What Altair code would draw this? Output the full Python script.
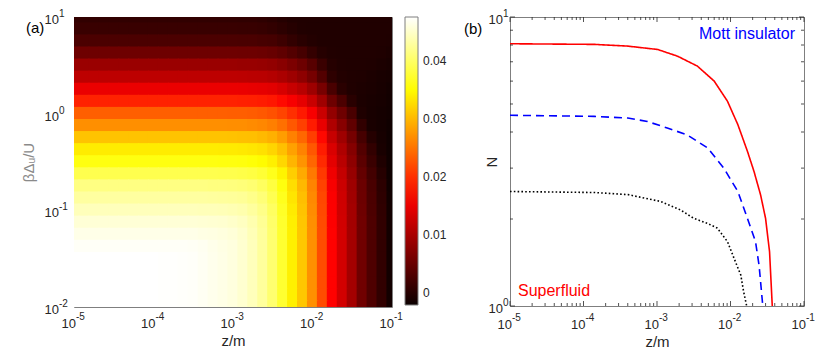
import math
import altair as alt
import pandas as pd

# ---------------- data: panel (a) heat map ----------------
# grid centres (log10 of z/m and of beta*Delta_U/U); values in units of 1e-3
LOG_Z = [-5.0, -4.875, -4.75, -4.625, -4.5, -4.375, -4.25, -4.125, -4.0, -3.875, -3.75,
         -3.625, -3.5, -3.375, -3.25, -3.125, -3.0, -2.875, -2.75, -2.625, -2.5, -2.375,
         -2.25, -2.125, -2.0, -1.875, -1.75, -1.625, -1.5, -1.375, -1.25, -1.125, -1.0]
LOG_BETA = [1.0, 0.875, 0.75, 0.625, 0.5, 0.375, 0.25, 0.125, 0.0, -0.125, -0.25, -0.375,
            -0.5, -0.625, -0.75, -0.875, -1.0, -1.125, -1.25, -1.375, -1.5, -1.625, -1.75,
            -1.875, -2.0]
HEAT = [
    [0.8, 0.8, 0.8, 0.8, 0.8, 0.8, 0.8, 0.8, 0.8, 0.8, 0.8, 0.8, 0.8, 0.8, 0.8, 0.8, 0.8, 0.7, 0.7, 0.6, 0.3, -0.1, -0.4, -0.5, -0.5, -0.5, -0.5, -0.5, -0.5, -0.5, -0.5, -0.5, -0.5],
    [1.4, 1.4, 1.4, 1.4, 1.4, 1.4, 1.4, 1.4, 1.4, 1.4, 1.4, 1.4, 1.4, 1.4, 1.4, 1.4, 1.4, 1.3, 1.3, 1.2, 0.9, 0.4, 0.0, -0.4, -0.5, -0.5, -0.5, -0.5, -0.5, -0.5, -0.5, -0.5, -0.5],
    [2.8, 2.8, 2.8, 2.8, 2.8, 2.8, 2.8, 2.8, 2.8, 2.8, 2.8, 2.8, 2.8, 2.8, 2.8, 2.8, 2.8, 2.7, 2.7, 2.5, 2.3, 1.7, 0.9, 0.2, -0.3, -0.5, -0.5, -0.5, -0.5, -0.5, -0.5, -0.5, -0.6],
    [5.5, 5.5, 5.5, 5.5, 5.5, 5.5, 5.5, 5.5, 5.5, 5.5, 5.5, 5.5, 5.5, 5.5, 5.5, 5.5, 5.5, 5.4, 5.4, 5.2, 4.9, 4.3, 3.4, 2.4, 1.0, 0.0, -0.4, -0.5, -0.5, -0.5, -0.5, -0.6, -0.8],
    [8.8, 8.8, 8.8, 8.8, 8.8, 8.8, 8.8, 8.8, 8.8, 8.8, 8.8, 8.8, 8.8, 8.8, 8.8, 8.8, 8.8, 8.7, 8.7, 8.5, 8.2, 7.5, 6.5, 5.4, 3.7, 1.5, 0.0, -0.4, -0.5, -0.5, -0.6, -0.8, -1.0],
    [11.5, 11.5, 11.5, 11.5, 11.5, 11.5, 11.5, 11.5, 11.5, 11.5, 11.5, 11.5, 11.5, 11.5, 11.5, 11.5, 11.5, 11.4, 11.3, 11.2, 10.8, 10.1, 9.1, 7.9, 6.1, 3.4, 0.6, -0.3, -0.5, -0.6, -0.8, -1.0, -1.2],
    [15.0, 15.0, 15.0, 15.0, 15.0, 15.0, 15.0, 15.0, 15.0, 15.0, 15.0, 15.0, 15.0, 15.0, 15.0, 15.0, 15.0, 14.9, 14.8, 14.6, 14.3, 13.5, 12.3, 11.1, 9.1, 6.2, 2.6, 0.3, -0.5, -0.7, -0.9, -1.1, -1.4],
    [19.0, 19.0, 19.0, 19.0, 19.0, 19.0, 19.0, 19.0, 19.0, 19.0, 19.0, 19.0, 19.0, 19.0, 19.0, 19.0, 19.0, 18.9, 18.8, 18.6, 18.2, 17.3, 16.0, 14.6, 12.4, 9.3, 5.4, 2.8, 0.2, -0.8, -1.0, -1.2, -1.5],
    [23.5, 23.5, 23.5, 23.5, 23.5, 23.5, 23.5, 23.5, 23.5, 23.5, 23.5, 23.5, 23.5, 23.5, 23.5, 23.5, 23.4, 23.4, 23.3, 23.0, 22.5, 21.5, 20.0, 18.4, 16.0, 12.5, 8.3, 5.5, 2.6, -0.6, -1.1, -1.3, -1.6],
    [27.0, 27.0, 27.0, 27.0, 27.0, 27.0, 27.0, 27.0, 27.0, 27.0, 27.0, 27.0, 27.0, 27.0, 27.0, 27.0, 26.9, 26.9, 26.7, 26.4, 25.8, 24.7, 23.0, 21.2, 18.5, 14.8, 10.4, 7.4, 4.4, 0.8, -1.0, -1.3, -1.7],
    [30.8, 30.8, 30.8, 30.8, 30.8, 30.8, 30.8, 30.8, 30.8, 30.8, 30.8, 30.8, 30.8, 30.8, 30.8, 30.8, 30.7, 30.6, 30.5, 30.1, 29.4, 28.0, 26.0, 24.1, 21.1, 17.1, 12.3, 9.2, 6.1, 2.4, -0.1, -1.2, -1.8],
    [33.8, 33.8, 33.8, 33.8, 33.8, 33.8, 33.8, 33.8, 33.8, 33.8, 33.8, 33.8, 33.8, 33.8, 33.8, 33.7, 33.7, 33.6, 33.4, 33.0, 32.1, 30.6, 28.3, 26.1, 22.9, 18.6, 13.7, 10.4, 7.2, 3.4, 0.9, -1.0, -1.8],
    [36.0, 36.0, 36.0, 36.0, 36.0, 36.0, 36.0, 36.0, 36.0, 36.0, 36.0, 36.0, 36.0, 36.0, 36.0, 35.9, 35.9, 35.8, 35.5, 35.0, 34.1, 32.3, 29.8, 27.4, 24.0, 19.6, 14.5, 11.2, 7.9, 4.0, 1.5, -0.6, -1.8],
    [39.0, 39.0, 39.0, 39.0, 39.0, 39.0, 39.0, 39.0, 39.0, 39.0, 39.0, 39.0, 39.0, 39.0, 39.0, 38.9, 38.9, 38.7, 38.4, 37.8, 36.5, 34.4, 31.6, 29.0, 25.4, 20.7, 15.4, 12.0, 8.6, 4.7, 2.2, 0.0, -1.8],
    [41.5, 41.5, 41.5, 41.5, 41.5, 41.5, 41.5, 41.5, 41.5, 41.5, 41.5, 41.5, 41.5, 41.5, 41.4, 41.4, 41.3, 41.1, 40.7, 39.8, 38.3, 35.9, 32.8, 30.0, 26.2, 21.4, 16.0, 12.6, 9.1, 5.2, 2.6, 0.4, -1.7],
    [43.0, 43.0, 43.0, 43.0, 43.0, 43.0, 43.0, 43.0, 43.0, 43.0, 43.0, 43.0, 43.0, 43.0, 42.9, 42.8, 42.7, 42.5, 41.9, 41.0, 39.2, 36.6, 33.3, 30.5, 26.6, 21.7, 16.3, 12.8, 9.3, 5.3, 2.8, 0.6, -1.6],
    [44.3, 44.3, 44.3, 44.3, 44.3, 44.3, 44.3, 44.3, 44.3, 44.3, 44.3, 44.3, 44.3, 44.2, 44.2, 44.1, 43.9, 43.6, 42.9, 41.8, 39.9, 37.1, 33.7, 30.8, 26.8, 21.9, 16.4, 12.9, 9.5, 5.5, 2.9, 0.7, -1.5],
    [45.6, 45.6, 45.6, 45.6, 45.6, 45.6, 45.6, 45.6, 45.6, 45.6, 45.6, 45.6, 45.6, 45.5, 45.4, 45.3, 45.0, 44.6, 43.7, 42.4, 40.3, 37.4, 34.0, 31.0, 27.0, 22.0, 16.5, 13.0, 9.5, 5.6, 3.0, 0.8, -1.5],
    [46.5, 46.5, 46.5, 46.5, 46.5, 46.5, 46.5, 46.5, 46.5, 46.5, 46.5, 46.5, 46.5, 46.3, 46.2, 46.0, 45.7, 45.1, 44.1, 42.7, 40.5, 37.5, 34.1, 31.1, 27.1, 22.1, 16.6, 13.1, 9.6, 5.6, 3.0, 0.8, -1.5],
    [47.2, 47.2, 47.2, 47.2, 47.2, 47.2, 47.2, 47.2, 47.2, 47.2, 47.2, 47.2, 47.1, 46.9, 46.6, 46.3, 46.0, 45.3, 44.3, 42.8, 40.6, 37.6, 34.1, 31.1, 27.1, 22.1, 16.6, 13.1, 9.6, 5.6, 3.0, 0.8, -1.5],
    [47.6, 47.6, 47.6, 47.6, 47.6, 47.6, 47.6, 47.6, 47.6, 47.5, 47.5, 47.4, 47.3, 47.0, 46.7, 46.4, 46.0, 45.3, 44.3, 42.8, 40.6, 37.6, 34.1, 31.1, 27.1, 22.1, 16.6, 13.1, 9.6, 5.6, 3.0, 0.8, -1.5],
    [47.6, 47.6, 47.6, 47.6, 47.6, 47.6, 47.6, 47.6, 47.6, 47.5, 47.5, 47.4, 47.3, 47.0, 46.7, 46.4, 46.0, 45.3, 44.3, 42.8, 40.6, 37.6, 34.1, 31.1, 27.1, 22.1, 16.6, 13.1, 9.6, 5.6, 3.0, 0.8, -1.5],
    [47.6, 47.6, 47.6, 47.6, 47.6, 47.6, 47.6, 47.6, 47.6, 47.5, 47.5, 47.4, 47.3, 47.0, 46.7, 46.4, 46.0, 45.3, 44.3, 42.8, 40.6, 37.6, 34.1, 31.1, 27.1, 22.1, 16.6, 13.1, 9.6, 5.6, 3.0, 0.8, -1.5],
    [47.6, 47.6, 47.6, 47.6, 47.6, 47.6, 47.6, 47.6, 47.6, 47.5, 47.5, 47.4, 47.3, 47.0, 46.7, 46.4, 46.0, 45.3, 44.3, 42.8, 40.6, 37.6, 34.1, 31.1, 27.1, 22.1, 16.6, 13.1, 9.6, 5.6, 3.0, 0.8, -1.5],
    [47.6, 47.6, 47.6, 47.6, 47.6, 47.6, 47.6, 47.6, 47.6, 47.5, 47.5, 47.4, 47.3, 47.0, 46.7, 46.4, 46.0, 45.3, 44.3, 42.8, 40.6, 37.6, 34.1, 31.1, 27.1, 22.1, 16.6, 13.1, 9.6, 5.6, 3.0, 0.8, -1.5],
]
CBAR_TICKS = [0.0, 0.01, 0.02, 0.03, 0.04]
CBAR_DOMAIN = [-0.0021, 0.01654, 0.0352, 0.0476]       # hot colormap stops
CBAR_COLORS = ["#0b0000", "#ff0000", "#ffff00", "#ffffff"]

# ---------------- data: panel (b) curves ----------------
SERIES = ["Superfluid", "Mott insulator", "other"]
RED_Z = [1e-5, 1.4e-4, 4.0e-4, 1.02e-3, 1.9e-3, 3.55e-3, 6.0e-3, 9.1e-3, 1.26e-2, 1.7e-2, 2.09e-2, 2.57e-2, 3.0e-2, 3.4e-2, 3.7e-2]
RED_N = [8.08, 8.04, 7.93, 7.72, 7.32, 6.76, 6.0, 5.11, 4.24, 3.43, 2.92, 2.42, 2.01, 1.54, 1.0]
BLUE_Z = [1e-5, 1.4e-4, 4.0e-4, 7.4e-4, 1.38e-3, 2.57e-3, 4.9e-3, 8.1e-3, 1.26e-2, 1.7e-2, 2.19e-2, 2.45e-2, 2.75e-2]
BLUE_N = [4.57, 4.53, 4.47, 4.35, 4.13, 3.91, 3.52, 3.0, 2.49, 2.01, 1.67, 1.38, 1.0]
BLACK_Z = [1e-5, 1.4e-4, 4.0e-4, 1.12e-3, 2.09e-3, 3.16e-3, 4.9e-3, 6.6e-3, 9.1e-3, 1.12e-2, 1.38e-2, 1.51e-2, 1.66e-2]
BLACK_N = [2.49, 2.47, 2.43, 2.30, 2.15, 2.01, 1.93, 1.86, 1.67, 1.46, 1.28, 1.12, 1.0]

# tick labels: base "10" with the exponent as a superscript
X_TICKS = [1e-5, 1e-4, 1e-3, 1e-2, 1e-1]
X_EXP = ["-5", "-4", "-3", "-2", "-1"]
BETA_TICKS = [1e-2, 1e-1, 1, 10]
BETA_EXP = ["-2", "-1", "0", "1"]
N_TICKS = [1, 10]
N_EXP = ["0", "1"]
X_MINOR = [m * 10.0 ** e for e in range(-5, -1) for m in range(2, 10)]
N_MINOR = [2, 3, 4, 5, 6, 7, 8, 9]
BASE = "10"

FONT = "Liberation Sans"
INK = "#262626"
BASE_SIZE = 13
EXP_SIZE = 10

# ---------------- panel (a) ----------------
HALF = 0.0625 * 1.12   # cells overlap slightly so no seams show
heat_rows = []
for i, lb in enumerate(LOG_BETA):
    for j, lz in enumerate(LOG_Z):
        heat_rows.append({
            "z0": 10 ** (lz - HALF), "z1": 10 ** (lz + HALF),
            "b0": 10 ** (lb - HALF), "b1": 10 ** (lb + HALF),
            "v": HEAT[i][j] / 1000.0,
        })
heat_df = pd.DataFrame(heat_rows)

WA, HA = 318, 290
WB, HB = 294, 289

xs_a = alt.Scale(type="log", domain=[1e-5, 1e-1], nice=False)
ys_a = alt.Scale(type="log", domain=[1e-2, 10], nice=False)
xaxis_a = alt.Axis(values=X_TICKS, labels=False, title="z/m", ticks=False, domain=False,
                   grid=False, titleY=33, titleBaseline="middle")
yaxis_a = alt.Axis(values=BETA_TICKS, labels=False, title="βΔᵤ/U", titleColor="#8a8a8a",
                   ticks=False, domain=False, grid=False, titleX=-46, titleY=HA / 2,
                   titleAngle=270, titleAlign="center", titleBaseline="middle")

cscale = alt.Scale(domain=CBAR_DOMAIN, range=CBAR_COLORS, interpolate="rgb", clamp=True)

heat = alt.Chart(heat_df).mark_rect(clip=True, strokeWidth=0).encode(
    x=alt.X("z0:Q", scale=xs_a, axis=xaxis_a),
    x2="z1:Q",
    y=alt.Y("b0:Q", scale=ys_a, axis=yaxis_a),
    y2="b1:Q",
    color=alt.Color("v:Q", scale=cscale,
                    legend=alt.Legend(type="gradient", orient="none", legendX=331, legendY=0,
                                      title=None, direction="vertical", gradientLength=288,
                                      gradientThickness=13, values=CBAR_TICKS,
                                      labelExpr="datum.value == 0 ? '0' : format(datum.value, '.2f')",
                                      gradientStrokeColor="#7f7f7f", gradientStrokeWidth=1,
                                      labelFont=FONT, labelFontSize=12, labelColor=INK,
                                      labelOffset=5)),
)


def x_labels(ticks, exps, scale, axis, h, dy_base, dy_exp, dx):
    df = pd.DataFrame({"v": ticks, "e": exps, "b": [BASE] * len(ticks)})
    base = alt.Chart(df).mark_text(font=FONT, fontSize=BASE_SIZE, color=INK, align="right",
                                   baseline="middle", dx=dx).encode(
        x=alt.X("v:Q", scale=scale, axis=axis), y=alt.value(h + dy_base), text="b:N")
    sup = alt.Chart(df).mark_text(font=FONT, fontSize=EXP_SIZE, color=INK, align="left",
                                  baseline="middle", dx=dx).encode(
        x=alt.X("v:Q", scale=scale, axis=axis), y=alt.value(h + dy_exp), text="e:N")
    return [base, sup]


def y_labels(ticks, exps, scale, axis, xpos, dy_base, dy_exp):
    df = pd.DataFrame({"v": ticks, "e": exps, "b": [BASE] * len(ticks)})
    base = alt.Chart(df).mark_text(font=FONT, fontSize=BASE_SIZE, color=INK, align="right",
                                   baseline="middle", dy=dy_base).encode(
        y=alt.Y("v:Q", scale=scale, axis=axis), x=alt.value(xpos), text="b:N")
    sup = alt.Chart(df).mark_text(font=FONT, fontSize=EXP_SIZE, color=INK, align="left",
                                  baseline="middle", dy=dy_exp).encode(
        y=alt.Y("v:Q", scale=scale, axis=axis), x=alt.value(xpos), text="e:N")
    return [base, sup]


labels_a = (x_labels(X_TICKS, X_EXP, xs_a, xaxis_a, HA, 17, 10, 2)
            + y_labels(BETA_TICKS, BETA_EXP, ys_a, yaxis_a, -15, 3, -3))

panel_a_text = alt.Chart(pd.DataFrame({"t": ["(a)"]})).mark_text(
    font=FONT, fontSize=15, color="#000000", align="left", baseline="middle"
).encode(text="t:N", x=alt.value(-48), y=alt.value(11))

left = alt.layer(heat, *labels_a, panel_a_text).properties(width=WA, height=HA)

# ---------------- panel (b) ----------------
curves = pd.DataFrame(
    [{"series": SERIES[0], "z": z, "N": n} for z, n in zip(RED_Z, RED_N)]
    + [{"series": SERIES[1], "z": z, "N": n} for z, n in zip(BLUE_Z, BLUE_N)]
    + [{"series": SERIES[2], "z": z, "N": n} for z, n in zip(BLACK_Z, BLACK_N)]
)
xs = alt.Scale(type="log", domain=[1e-5, 1e-1], nice=False)
ys = alt.Scale(type="log", domain=[1, 10], nice=False)
xaxis_b = alt.Axis(values=X_TICKS, labels=False, title="z/m", ticks=False, domain=False,
                   grid=False, titleY=35, titleBaseline="middle")
yaxis_b = alt.Axis(values=N_TICKS, labels=False, title="N", ticks=False, domain=False,
                   grid=False, titleX=-19, titleY=HB / 2, titleAngle=270,
                   titleAlign="center", titleBaseline="middle")

lines = alt.Chart(curves).mark_line(strokeWidth=1.6, clip=True).encode(
    x=alt.X("z:Q", scale=xs, axis=xaxis_b),
    y=alt.Y("N:Q", scale=ys, axis=yaxis_b),
    color=alt.Color("series:N", scale=alt.Scale(domain=SERIES, range=["#ff0000", "#0000ff", "#000000"]),
                    legend=None),
    strokeDash=alt.StrokeDash("series:N",
                              scale=alt.Scale(domain=SERIES, range=[[1, 0], [8, 5], [1.6, 2.2]]),
                              legend=None),
    detail="series:N",
)

xmaj = pd.DataFrame({"z": X_TICKS})
xmin = pd.DataFrame({"z": X_MINOR})
ymaj = pd.DataFrame({"N": N_TICKS})
ymin = pd.DataFrame({"N": N_MINOR})
tick_style = dict(color=INK, strokeWidth=0.8)


def xtick(df, y0, y1):
    return alt.Chart(df).mark_rule(**tick_style).encode(
        x=alt.X("z:Q", scale=xs, axis=xaxis_b), y=alt.value(y0), y2=alt.value(y1))


def ytick(df, x0, x1):
    return alt.Chart(df).mark_rule(**tick_style).encode(
        y=alt.Y("N:Q", scale=ys, axis=yaxis_b), x=alt.value(x0), x2=alt.value(x1))


ticks = [
    xtick(xmaj, HB, HB - 5), xtick(xmin, HB, HB - 3),
    xtick(xmaj, 0, 5), xtick(xmin, 0, 3),
    ytick(ymaj, 0, 5), ytick(ymin, 0, 3),
    ytick(ymaj, WB, WB - 5), ytick(ymin, WB, WB - 3),
]

labels_b = (x_labels(X_TICKS, X_EXP, xs, xaxis_b, HB, 19, 12, 2)
            + y_labels(N_TICKS, N_EXP, ys, yaxis_b, -7, 3, -3))

ANNOT = ["Mott insulator", "Superfluid", "(b)"]
mott = alt.Chart(pd.DataFrame({"t": [ANNOT[0]]})).mark_text(
    font=FONT, fontSize=16, color="#0000ff", align="left", baseline="middle"
).encode(text="t:N", x=alt.value(189), y=alt.value(17))
sf = alt.Chart(pd.DataFrame({"t": [ANNOT[1]]})).mark_text(
    font=FONT, fontSize=16, color="#ff0000", align="left", baseline="middle"
).encode(text="t:N", x=alt.value(8), y=alt.value(274))
lab_b = alt.Chart(pd.DataFrame({"t": [ANNOT[2]]})).mark_text(
    font=FONT, fontSize=15, color="#000000", align="left", baseline="middle"
).encode(text="t:N", x=alt.value(-46), y=alt.value(12))

right = alt.layer(lines, *ticks, *labels_b, mott, sf, lab_b).properties(width=WB, height=HB)

chart = alt.hconcat(left, right, spacing=118, bounds="flush").resolve_scale(
    color="independent", strokeDash="independent"
).properties(
    padding={"left": 12, "top": 0, "right": 5, "bottom": 0}
).configure_view(
    stroke="#7f7f7f", strokeWidth=1
).configure_axis(
    titleFont=FONT, titleFontSize=15, titleColor=INK, titleFontWeight="normal",
)

chart.save("out.html", embed_options={"renderer": "svg", "actions": False})
